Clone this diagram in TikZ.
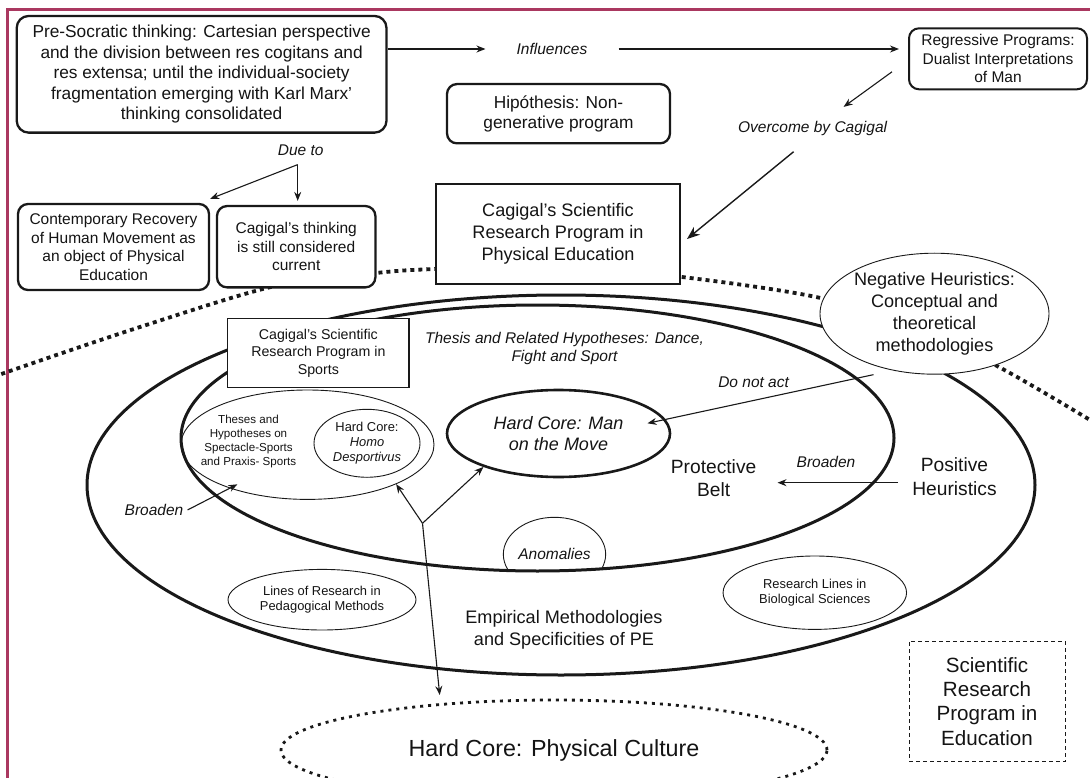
\documentclass[tikz,border=0pt]{standalone}
\usepackage{fontspec}
\setmainfont{Liberation Sans}
\usepackage{tikz}
\usetikzlibrary{arrows,arrows.meta,positioning,shapes,backgrounds,fit}
\usepackage{xcolor}
\definecolor{framecol}{RGB}{170,56,96}

\newcommand{\fsPre}{\fontsize{17.3}{20.5}\selectfont}
\newcommand{\fsBox}{\fontsize{15.5}{18.6}\selectfont}
\newcommand{\fsSci}{\fontsize{18.1}{22.2}\selectfont}
\newcommand{\fsBelt}{\fontsize{19.2}{23.5}\selectfont}
\newcommand{\fsEdu}{\fontsize{20.6}{24.4}\selectfont}
\newcommand{\fsCore}{\fontsize{23.3}{28}\selectfont}
\newcommand{\fsSport}{\fontsize{14.2}{17.5}\selectfont}
\newcommand{\fsSmall}{\fontsize{12.9}{15}\selectfont}
\newcommand{\fsTiny}{\fontsize{11.6}{13.9}\selectfont}
\newcommand{\fsMan}{\fontsize{18}{20.7}\selectfont}

\begin{document}
\begin{tikzpicture}[x=1pt,y=-1pt,
    roundbox/.style={draw=black!90,line width=2.3pt,rounded corners=10pt,fill=white,align=center,inner sep=0pt,text=black!92},
    thinell/.style={ellipse,draw=black!90,line width=0.9pt,align=center,inner sep=0pt,text=black!92},
    thickell/.style={ellipse,draw=black!90,line width=3pt,inner sep=0pt,text=black!92},
    lbl/.style={font=\fsBox\itshape,inner sep=0pt,text=black!92,align=center},
    arr/.style={-{Stealth[length=9pt,width=7pt]},line width=1.1pt,black!90},
    arrB/.style={-{Stealth[length=13pt,width=10pt]},line width=1.4pt,black!90}]

\useasboundingbox (0,0) rectangle (1090,778);

%% frame
\draw[framecol,line width=3pt] (7,780) -- (7,10) -- (1092,10);

%% dotted border of the program in Physical Education
\draw[black!90,line width=3.8pt,dash pattern=on 4pt off 4pt]
    plot[smooth,tension=0.55] coordinates {(-2,376) (10,371) (140,327) (275,286) (376,273) (436,269) (560,266) (682,277) (816,297) (905,324) (997,366) (1095,423)};

% Anomalies (cut by the belt)
\begin{scope}
\clip (537.5,438) ellipse [x radius=356.5pt,y radius=133pt];
\node[thinell,minimum width=99pt,minimum height=74pt,font=\fsBox\itshape](anom) at (554.5,554.3){Anomalies};
\end{scope}

% Belts
\node[thickell,minimum width=948pt,minimum height=380pt](prog) at (561,485){};
\node[thickell,minimum width=713pt,minimum height=266pt](belt) at (537.5,438){};

% Sports program
\node[thinell,minimum width=253pt,minimum height=109.4pt](thes) at (307.5,444.7){};
\node[font=\fsTiny,align=center,inner sep=0pt,text=black!92](thesTxt) at (248.5,441.7){Theses and\\Hypotheses on\\Spectacle-Sports\\and Praxis- Sports};
\node[thinell,minimum width=106pt,minimum height=68pt,font=\fsSmall](homo) at (367,443.3){Hard Core:\\\textit{Homo}\\\textit{Desportivus}};
\node[thickell,line width=2.6pt,minimum width=223pt,minimum height=87pt,font=\fsMan\itshape,align=center](man) at (558.5,433.5){Hard Core: Man\\on the Move};

% Research lines
\node[thinell,minimum width=188pt,minimum height=60.6pt,font=\fsSmall](lines) at (322,599.7){Lines of Research in\\Pedagogical Methods};
\node[thinell,minimum width=183.5pt,minimum height=73.4pt,font=\fsSmall](bio) at (814.8,592.7){Research Lines in\\Biological Sciences};

% Boxes
\node[roundbox,rounded corners=12pt,minimum width=369.8pt,minimum height=116.7pt,font=\fsPre](pre) at (201.6,74.3){Pre-Socratic thinking: Cartesian perspective\\and the division between res cogitans and\\res extensa; until the individual-society\\fragmentation emerging with Karl Marx'\\thinking consolidated};
\node[roundbox,minimum width=223pt,minimum height=59.3pt,font=\fsPre](hyp) at (558.5,113.7){Hipóthesis: Non-\\generative program};
\node[roundbox,line width=2pt,minimum width=178pt,minimum height=61pt,font=\fsBox](reg) at (998,58.8){Regressive Programs:\\Dualist Interpretations\\of Man};
\node[roundbox,minimum width=191pt,minimum height=86pt,font=\fsBox](cont) at (113.5,247){Contemporary Recovery\\of Human Movement as\\an object of Physical\\Education};
\node[roundbox,minimum width=158.4pt,minimum height=81.3pt,font=\fsBox](think) at (296.2,246.7){Cagigal's thinking\\is still considered\\current};
\node[draw=black!90,line width=2pt,fill=white,minimum width=244pt,minimum height=100pt,font=\fsSci,align=center,inner sep=0pt,text=black!92](sci) at (558,234){Cagigal's Scientific\\Research Program in\\Physical Education};
\node[draw=black!90,line width=1.2pt,fill=white,minimum width=181.3pt,minimum height=69.4pt,font=\fsSport,align=center,inner sep=0pt,text=black!92](sports) at (318.4,353){Cagigal's Scientific\\Research Program in\\Sports};
\node[thinell,fill=white,minimum width=229pt,minimum height=121pt,font=\fsSci](neg) at (934.5,313.7){Negative Heuristics:\\Conceptual and\\theoretical\\methodologies};

% Physical culture and education
\node[ellipse,draw=black!90,line width=2.8pt,dash pattern=on 3pt off 5pt,minimum width=546pt,minimum height=100pt,font=\fsCore,text=black!92](pc) at (554,750){Hard Core: Physical Culture};
\node[draw=black!90,line width=0.9pt,dash pattern=on 4pt off 3pt,minimum width=156pt,minimum height=120.7pt,font=\fsEdu,align=center,inner sep=0pt,text=black!92](edu) at (987,701.3){Scientific\\Research\\Program in\\Education};

% Plain labels
\node[lbl,inner xsep=31pt](infl) at (552,49){Influences};
\node[lbl](due) at (300.7,150){Due to};
\node[lbl](ovc) at (812.6,128.3){Overcome by Cagigal};
\node[lbl](thesis) at (564.5,348.5){Thesis and Related Hypotheses: Dance,\\Fight and Sport};
\node[lbl](dna) at (753.6,382.7){Do not act};
\node[lbl](brR) at (826,461.7){Broaden};
\node[lbl](brL) at (154,510){Broaden};
\node[font=\fsBelt,align=center,inner sep=0pt,text=black!92](pb) at (713.6,478.3){Protective\\Belt};
\node[font=\fsBelt,align=center,inner sep=0pt,text=black!92](pos) at (954.5,476.7){Positive\\Heuristics};
\node[font=\fsSci,align=center,inner sep=0pt,text=black!92](emp) at (564,630){Empirical Methodologies\\and Specificities of PE};

% Free ends
\coordinate (dueFork) at ([shift={(-3,9)}]due.south);
\coordinate (fork) at (422.5,523.3);
\coordinate (pcTop) at (439.7,695);
\coordinate (manTip) at (647.5,423.3);
\coordinate (thesTip) at (237.4,484.3);

% Connectors
\draw[arr] (pre.east |- infl) -- (infl);
\draw[arr,shorten >=9pt] (infl) -- (reg.west |- infl);
\draw[arr] ([shift={(-16,13)}]reg.west) -- ([shift={(31,-14)}]ovc.north);
\draw[arrB] ([shift={(-19,16)}]ovc.south) -- ([shift={(6,5)}]sci.east);

\path (dueFork) edge[arr,shorten >=4pt] (dueFork |- think.north)
                edge[arr] ([yshift=4pt]cont.north east);

\draw[arr] ([xshift=-61pt]neg.south) -- (manTip);
\draw[arr] ([shift={(-14,6)}]pos.west) -- ([shift={(21,4.4)}]pb.east);
\draw[arr] ([xshift=4pt]brL.east) -- (thesTip);

\path (fork) edge[arr] (thes.-24)
             edge[arr] (man.204)
             edge[arr] (pcTop);

\end{tikzpicture}
\end{document}
